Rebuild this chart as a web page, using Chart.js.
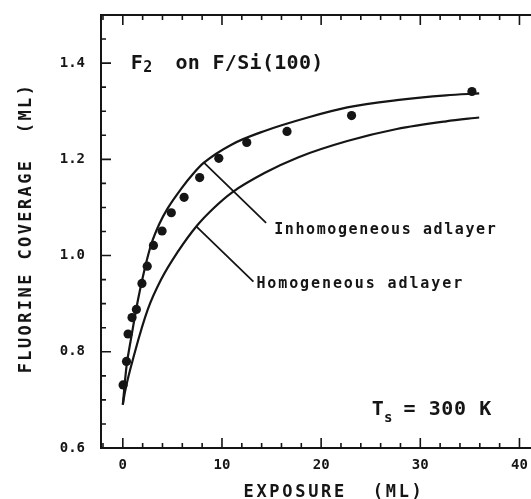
<!DOCTYPE html>
<html>
<head>
<meta charset="utf-8">
<script src="https://cdn.jsdelivr.net/npm/chart.js@4/dist/chart.umd.min.js"></script>
<style>
  html, body { margin: 0; padding: 0; background: #fff; }
</style>
</head>
<body>
<canvas id="chart" width="531" height="499"></canvas>
<script>
// Measured points (exposure in ML, coverage in ML)
const exposure = [0.03, 0.37, 0.53, 0.93, 1.37, 1.93, 2.46, 3.09, 3.96, 4.89, 6.18, 7.75, 9.68, 12.5, 16.56, 23.07, 35.21];
const coverage = [0.731, 0.780, 0.837, 0.871, 0.888, 0.942, 0.978, 1.021, 1.051, 1.089, 1.121, 1.162, 1.202, 1.235, 1.258, 1.291, 1.341];

// Model curve: inhomogeneous adlayer
const inhomX = [0, 0.37, 0.87, 1.53, 2.19, 2.86, 3.69, 4.52, 5.86, 7.18, 8.18, 11.0, 14.3, 18.65, 22.64, 27.63, 32.6, 35.94];
const inhomY = [0.690, 0.769, 0.832, 0.908, 0.971, 1.023, 1.066, 1.098, 1.138, 1.172, 1.193, 1.231, 1.259, 1.287, 1.308, 1.323, 1.333, 1.337];

// Model curve: homogeneous adlayer
const homX = [0, 0.2, 1.2, 2.52, 3.86, 5.52, 7.51, 9.18, 11.0, 14.33, 17.66, 22.64, 27.63, 32.6, 35.94];
const homY = [0.690, 0.715, 0.798, 0.888, 0.950, 1.007, 1.063, 1.099, 1.131, 1.172, 1.204, 1.238, 1.263, 1.279, 1.287];

// Tick positions
const xTicks = [-2, 0, 2, 4, 6, 8, 10, 12, 14, 16, 18, 20, 22, 24, 26, 28, 30, 32, 34, 36, 38, 40];
const xLabels = [0, 10, 20, 30, 40];
const yTicks = [0.6, 0.65, 0.7, 0.75, 0.8, 0.85, 0.9, 0.95, 1.0, 1.05, 1.1, 1.15, 1.2, 1.25, 1.3, 1.35, 1.4, 1.45];
const yLabels = [0.6, 0.8, 1.0, 1.2, 1.4];

const ink = '#151515';
const mono = '"DejaVu Sans Mono", monospace';

const toXY = (xs, ys) => xs.map((v, i) => ({ x: v, y: ys[i] }));
const near = (v, list) => list.some(l => Math.abs(l - v) < 1e-6);

// Tegner ramme, innoverpekende ticks, etiketter og titler
const framePlugin = {
    id: 'frame',
    afterDraw(chart) {
        const { ctx, chartArea: a, scales: { x, y } } = chart;
        ctx.save();
        ctx.strokeStyle = ink;
        ctx.fillStyle = ink;
        ctx.lineWidth = 2;
        ctx.beginPath();
        ctx.moveTo(a.right + 5, a.top);
        ctx.lineTo(a.left, a.top);
        ctx.lineTo(a.left, a.bottom);
        ctx.lineTo(a.right + 5, a.bottom);
        ctx.stroke();

        ctx.lineWidth = 1.6;
        ctx.beginPath();
        x.ticks.forEach(t => {
            const px = x.getPixelForValue(t.value);
            const len = near(t.value, xLabels) ? 10 : 5;
            ctx.moveTo(px, a.bottom); ctx.lineTo(px, a.bottom - len);
            ctx.moveTo(px, a.top); ctx.lineTo(px, a.top + len);
        });
        y.ticks.forEach(t => {
            const py = y.getPixelForValue(t.value);
            const len = near(t.value, yLabels) ? 10 : 5;
            ctx.moveTo(a.left, py); ctx.lineTo(a.left + len, py);
        });
        ctx.stroke();

        // Ledelinjer til kurvene
        ctx.lineWidth = 1.8;
        const seg = (x1, y1, x2, y2) => {
            ctx.moveTo(x.getPixelForValue(x1), y.getPixelForValue(y1));
            ctx.lineTo(x.getPixelForValue(x2), y.getPixelForValue(y2));
        };
        ctx.beginPath();
        seg(8.18, 1.193, 14.45, 1.068);
        seg(7.38, 1.061, 13.17, 0.946);
        ctx.stroke();

        const text = (str, px, py, size, ls, align) => {
            ctx.font = 'bold ' + size + 'px ' + mono;
            ctx.letterSpacing = ls + 'px';
            ctx.textAlign = align || 'left';
            ctx.textBaseline = 'alphabetic';
            ctx.fillText(str, px, py);
            return ctx.measureText(str).width;
        };

        // Kurveetiketter
        text('Inhomogeneous adlayer', x.getPixelForValue(15.26), y.getPixelForValue(1.044), 15, 1.6);
        text('Homogeneous adlayer', x.getPixelForValue(13.47), y.getPixelForValue(0.933), 15, 1.9);

        // Tittel i plottet: F2 on F/Si(100)
        let px = x.getPixelForValue(0.8);
        let py = y.getPixelForValue(1.3875);
        px += text('F', px, py, 20, 0.5);
        px += text('2', px, py + 3, 15, 0.5);
        text('  on F/Si(100)', px - 2, py, 20, 0.3);

        // Ts = 300 K
        px = x.getPixelForValue(25.1);
        py = y.getPixelForValue(0.669);
        px += text('T', px, py, 20, 0.3);
        px += text('s', px, py + 7, 14, 0.3);
        text(' = 300 K', px - 2, py, 20, 0.6);

        // Aksetitler
        text('EXPOSURE  (ML)', 334, 497, 17, 2.7, 'center');
        ctx.save();
        ctx.translate(31, 228);
        ctx.rotate(-Math.PI / 2);
        text('FLUORINE COVERAGE  (ML)', 0, 0, 17, 2.4, 'center');
        ctx.restore();

        ctx.restore();
    }
};

new Chart(document.getElementById('chart').getContext('2d'), {
    type: 'scatter',
    data: {
        datasets: [
            {
                label: 'Inhomogeneous adlayer',
                data: toXY(inhomX, inhomY),
                showLine: true,
                borderColor: ink,
                borderWidth: 2.2,
                pointRadius: 0,
                cubicInterpolationMode: 'monotone'
            },
            {
                label: 'Homogeneous adlayer',
                data: toXY(homX, homY),
                showLine: true,
                borderColor: ink,
                borderWidth: 2.2,
                pointRadius: 0,
                cubicInterpolationMode: 'monotone'
            },
            {
                label: 'Measured',
                data: toXY(exposure, coverage),
                showLine: false,
                pointRadius: 4.6,
                pointBackgroundColor: ink,
                pointBorderWidth: 0
            }
        ]
    },
    options: {
        responsive: false,
        animation: false,
        clip: false,
        layout: { padding: { top: 15, right: 0, left: 0, bottom: 0 } },
        plugins: {
            legend: { display: false },
            tooltip: { enabled: false }
        },
        scales: {
            x: {
                type: 'linear',
                min: -2.2,
                max: 40.7,
                afterBuildTicks: s => { s.ticks = xTicks.map(v => ({ value: v })); },
                afterFit: s => {
                    s.height = 51;
                    s.paddingLeft = 0;
                    s.paddingRight = 0;
                },
                grid: { display: false, drawTicks: false },
                border: { display: false },
                ticks: {
                    padding: 10,
                    color: ink,
                    font: { family: mono, size: 14, weight: 'bold', lineHeight: 1 },
                    maxRotation: 0,
                    autoSkip: false,
                    callback: v => near(v, xLabels) ? String(Math.round(v)) : ''
                }
            },
            y: {
                type: 'linear',
                min: 0.6,
                max: 1.5,
                afterBuildTicks: s => { s.ticks = yTicks.map(v => ({ value: v })); },
                afterFit: s => {
                    s.width = 101;
                    s.paddingTop = 0;
                    s.paddingBottom = 0;
                },
                grid: { display: false, drawTicks: false },
                border: { display: false },
                ticks: {
                    padding: 16,
                    color: ink,
                    font: { family: mono, size: 14, weight: 'bold', lineHeight: 1 },
                    autoSkip: false,
                    callback: v => near(v, yLabels) ? v.toFixed(1) : ''
                }
            }
        }
    },
    plugins: [framePlugin]
});
</script>
</body>
</html>
